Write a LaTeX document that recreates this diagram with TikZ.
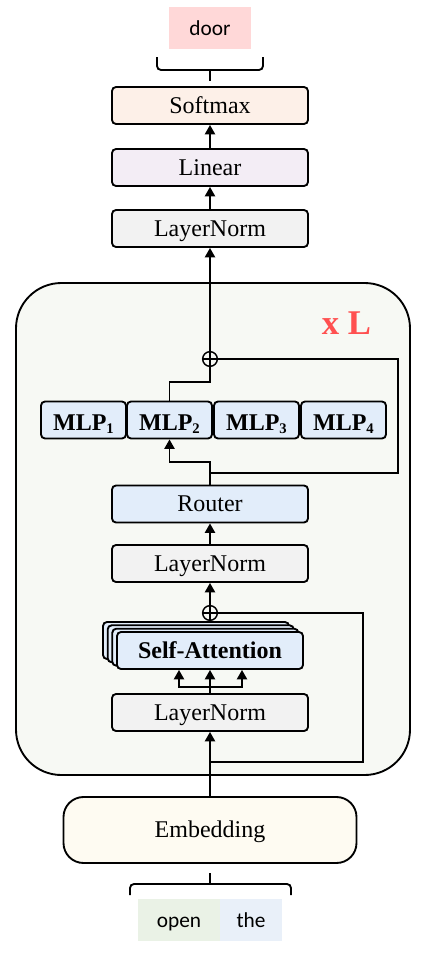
\documentclass[tikz,border=0pt]{standalone}
\usepackage{fontspec}
\setmainfont{Liberation Serif}
\newfontfamily\tokfont{Carlito}
\usetikzlibrary{arrows.meta,calc}
\definecolor{smfill}{HTML}{FDF0E8}
\definecolor{linfill}{HTML}{F3EDF5}
\definecolor{lnfill}{HTML}{F2F2F2}
\definecolor{bluefill}{HTML}{E2EDFA}
\definecolor{contbg}{HTML}{F7F9F4}
\definecolor{embfill}{HTML}{FEFBF2}
\definecolor{doorfill}{HTML}{FFD8D8}
\definecolor{openfill}{HTML}{EAF2E6}
\definecolor{thefill}{HTML}{E9F0F9}
\definecolor{xlred}{HTML}{FF5050}
\newcommand{\mysub}[1]{\raisebox{-0.35ex}{\fontsize{11}{11}\selectfont\bfseries #1}}
\begin{document}
\begin{tikzpicture}[x=0.75pt,y=-0.75pt,
  box/.style={draw, line width=1.4pt, rounded corners=3pt, minimum width=147pt, minimum height=27.75pt, inner sep=0pt, text height=11.9pt, text depth=0pt, font=\fontsize{18}{18}\selectfont},
  mlpbox/.style={box, fill=bluefill, minimum width=63.75pt, text height=15pt},
  sabox/.style={box, fill=bluefill, minimum width=139.5pt},
  tok/.style={inner sep=0pt, minimum height=31.5pt, text height=10.5pt, text depth=0pt, font=\tokfont\fontsize{16}{16}\selectfont},
  oplus/.style={circle, draw, line width=1.1pt, minimum size=11pt, inner sep=0pt, fill=contbg},
  arr/.style={-{Triangle[length=7pt,width=7.5pt]}, line width=1.4pt},
  conn/.style={line width=1.4pt}]
\useasboundingbox (0,0) rectangle (426,957);
% container
\node[draw, line width=1.4pt, fill=contbg, rounded corners=34pt, minimum width=295.5pt, minimum height=369pt, inner sep=0pt] (layer) at (213,529) {};
\node[text=xlred, font=\fontsize{26}{26}\selectfont\bfseries, inner sep=0pt, text height=17.5pt, text depth=0pt] (xl) at (346.5,323) {x L};
% top part
\node[tok, fill=doorfill, minimum width=61.5pt] (door) at (210,28) {door};
\node[box, fill=smfill] (softmax) at (210,105.5) {Softmax};
\node[box, fill=linfill] (linear) at (210,167.5) {Linear};
\node[box, fill=lnfill] (ln3) at (210,228.5) {LayerNorm};
% MoE block
\node[oplus] (op2) at (210,359) {};
\node[mlpbox] (mlp1) at (83.5,420) {\textbf{MLP}\mysub{1}};
\node[mlpbox] (mlp2) at (169.5,420) {\textbf{MLP}\mysub{2}};
\node[mlpbox] (mlp3) at (256.5,420) {\textbf{MLP}\mysub{3}};
\node[mlpbox] (mlp4) at (343.5,420) {\textbf{MLP}\mysub{4}};
\node[box, fill=bluefill] (router) at (210,504) {Router};
\node[box, fill=lnfill] (ln2) at (210,563.5) {LayerNorm};
% attention block
\node[oplus] (op1) at (210,613) {};
\node[sabox] (sa3) at (196,640.5) {};
\node[sabox] (sa2) at (200.7,643.8) {};
\node[sabox] (sa1) at (205.3,647.2) {};
\node[sabox] (sa) at (210,650.5) {\textbf{Self-Attention}};
\node[box, fill=lnfill] (ln1) at (210,712.5) {LayerNorm};
% bottom
\node[draw, line width=1.4pt, fill=embfill, rounded corners=15pt, minimum width=219.75pt, minimum height=49.5pt, inner sep=0pt, text height=11.9pt, text depth=0pt, font=\fontsize{18}{18}\selectfont] (emb) at (210,830) {Embedding};
\node[tok, fill=openfill, minimum width=61.5pt] (open) at (179,920) {open};
\node[tok, fill=thefill, minimum width=46.5pt] (the) at (251,920) {the};
% oplus crosses
\draw[line width=1.1pt] (op2.north) -- (op2.south) (op2.west) -- (op2.east);
\draw[line width=1.1pt] (op1.north) -- (op1.south) (op1.west) -- (op1.east);
% braces
\coordinate (tb) at (210,81);
\draw[conn, rounded corners=3pt] (157,57) |- (263,70) -- (263,57);
\draw[conn] (210,70) -- (tb);
\coordinate (bb) at (210,873);
\draw[conn, rounded corners=3pt] (130,895) |- (291,884) -- (291,895);
\draw[conn] (210,884) -- (bb);
% connectors top
\draw[arr] (linear) -- (softmax);
\draw[arr] (ln3) -- (linear);
\draw[arr] (op2.north) -- (ln3.south);
% MoE connectors
\coordinate (j2) at (210,382);
\draw[conn] (mlp2.north) |- (j2) -- (op2.south);
\coordinate (r1) at (210,473);
\coordinate (r2) at (210,462);
\coordinate (rr) at (398,473);
\draw[arr] (router.north) -- (r2) -| (mlp2.south);
\draw[conn] (r1) -- (rr) |- (op2.east);
\draw[arr] (ln2) -- (router);
\draw[arr] (op1.north) -- (ln2.south);
% attention connectors
\draw[conn] (op1.south) -- (op1.south |- sa3.north);
\coordinate (s0) at (210,687);
\draw[conn] (ln1.north) -- (s0);
\draw[arr] (s0) -| ($(sa.south)+(-31,0)$);
\draw[arr] (s0) -- (sa.south);
\draw[arr] (s0) -| ($(sa.south)+(32,0)$);
\draw[arr] (emb.north) -- (ln1.south);
\coordinate (r3) at (210,762);
\coordinate (rr3) at (363,762);
\draw[conn] (r3) -- (rr3) |- (op1.east);
\end{tikzpicture}
\end{document}
